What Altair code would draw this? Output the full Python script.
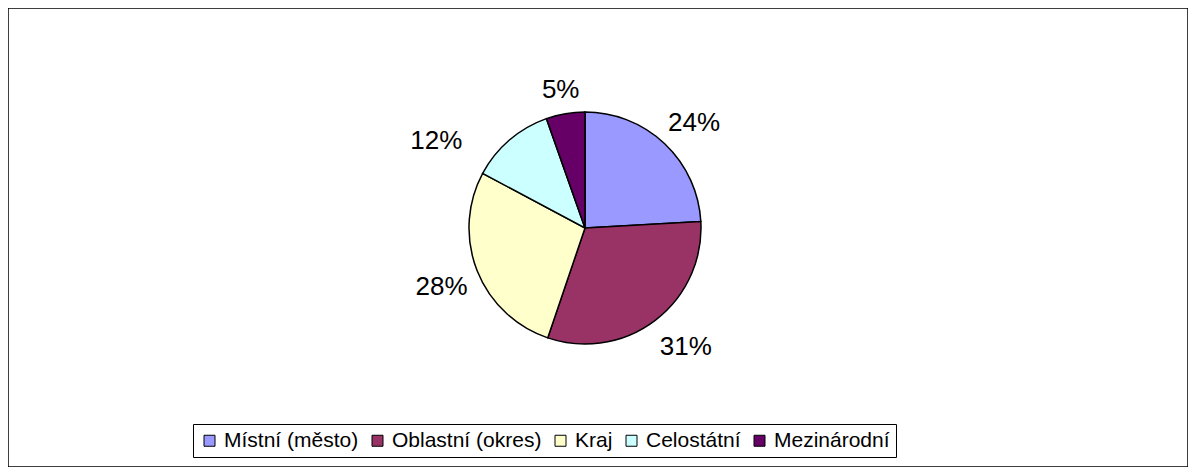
import altair as alt
import pandas as pd

categories = ["Místní (město)", "Oblastní (okres)", "Kraj", "Celostátní", "Mezinárodní"]
values = [24.1, 31.1, 27.6, 11.8, 5.4]
colors = ["#9999FF", "#993366", "#FFFFCC", "#CCFFFF", "#660066"]

df = pd.DataFrame({"category": categories, "value": values, "idx": list(range(len(categories)))})

FONT = "Liberation Sans"
CX, CY = 577, 220
LABEL_R = 150
# label nudges (dx, dy) in pixels, mimicking the spreadsheet's label placement
NUDGE = [(6, 4), (10, 0), (-4, 4), (-51, 27), (1, 10)]

color = alt.Color(
    "category:N",
    scale=alt.Scale(domain=categories, range=colors),
    sort=categories,
    legend=alt.Legend(
        orient="none", legendX=185, legendY=416, direction="horizontal", title=None,
        strokeColor="black", fillColor="white", padding=6,
        symbolType="square", symbolSize=121, symbolStrokeColor="black", symbolStrokeWidth=1,
        symbolOpacity=1, labelFont=FONT, labelFontSize=21, labelColor="black",
        labelOffset=4, columnPadding=8, labelLimit=400,
    ),
)

pie = alt.Chart(df).mark_arc(outerRadius=116, stroke="black", strokeWidth=1.5).encode(
    theta=alt.Theta("value:Q", stack=True),
    order=alt.Order("idx:Q"),
    color=color, x=alt.value(CX), y=alt.value(CY),
)

lab_base = alt.Chart(df).transform_window(
    cum="sum(value)", sort=[alt.SortField("idx")]
).transform_joinaggregate(
    total="sum(value)"
).transform_calculate(
    mid="(datum.cum - datum.value / 2) / datum.total",
    label="format(datum.value / datum.total, '.0%')",
)

layers = [pie]
for i, (dx, dy) in enumerate(NUDGE):
    layers.append(
        lab_base.transform_filter(f"datum.idx == {i}")
        .mark_text(radius=LABEL_R, font=FONT, fontSize=26, color="black", dx=dx, dy=dy)
        .encode(
            theta=alt.Theta("mid:Q", stack=None, scale=alt.Scale(domain=[0, 1], range=[0, 6.283185307179586])),
            text="label:N",
            x=alt.value(CX), y=alt.value(CY),
        )
    )

chart = alt.layer(*layers).resolve_scale(theta="independent").properties(
    width=1180, height=459, padding=0, autosize=alt.AutoSizeParams(type="none")
).configure(background="white").configure_view(stroke="black", strokeWidth=1.5)

chart.save("out.html", embed_options={"renderer": "svg", "actions": False})
